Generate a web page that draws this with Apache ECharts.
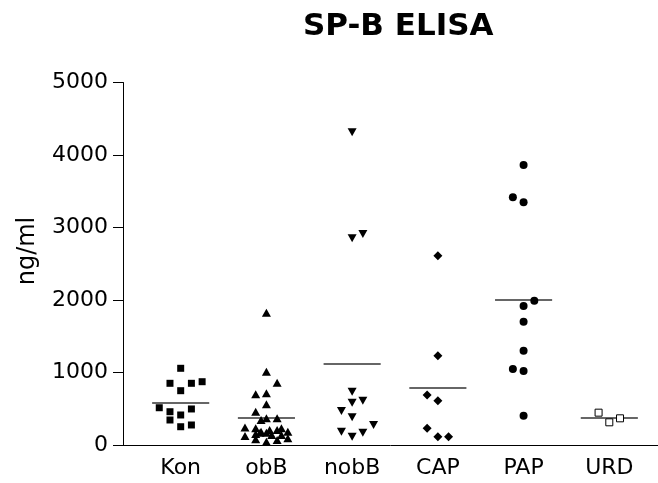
<!DOCTYPE html>
<html>
<head>
<meta charset="utf-8">
<script src="https://cdn.jsdelivr.net/npm/echarts@6/dist/echarts.min.js"></script>
<style>html,body{margin:0;padding:0;background:#fff;}#c{width:658px;height:483px;}</style>
</head>
<body>
<div id="c"></div>
<script>
// ---- data ----
var categories = ['Kon', 'obB', 'nobB', 'CAP', 'PAP', 'URD'];
var yTicks = [0, 1000, 2000, 3000, 4000, 5000];

var konValues  = [1058, 851, 851, 873, 749, 514, 459, 345, 414, 497, 252, 276];
var konCols    = [0, -1, 1, 2, 0, -2, -1, -1, 0, 1, 0, 1];

var obBValues  = [1825, 1011, 859, 713, 699, 561, 459, 368, 368, 345, 240, 230, 230, 207, 207, 183, 183, 170, 170, 152, 138, 138, 124, 92, 79, 69, 46];
var obBCols    = [0, 0, 1, 0, -1, 0, -1, 0, 1, -0.5, -2, -1, 1.4, 0.3, 1, -0.5, 2, 0, -0.6, -1, 0.5, 1.4, -2, 2, -1, 1, 0];

var nobBValues = [4313, 2851, 2910, 735, 583, 611, 469, 382, 276, 183, 114, 170];
var nobBCols   = [0, 0, 1, 0, 0, 1, -1, 0, 2, -1, 0, 1];

var capValues  = [2611, 1232, 690, 611, 230, 114, 114];
var capCols    = [0, 0, -1, 0, -1, 0, 1];

var papValues  = [3862, 3416, 3348, 1990, 1917, 1701, 1301, 1048, 1021, 404];
var papCols    = [0, -1, 0, 1, 0, 0, 0, -1, 0, 0];

var urdValues  = [446, 313, 368];
var urdCols    = [-1, 0, 1];

var groupMeans = [589, 377, 1127, 796, 2000, 377];

// ---- chart ----
var COL = 0.125;      // one jitter column, in category units
var HALF = 0.333;     // half width of mean bar, in category units
var FONT = 'DejaVu Sans';

var groups = [
  {v: konValues,  c: konCols,  symbol: 'rect',     size: 7, rot: 0,   fill: '#000'},
  {v: obBValues,  c: obBCols,  symbol: 'triangle', size: [9, 8], rot: 0, fill: '#000'},
  {v: nobBValues, c: nobBCols, symbol: 'triangle', size: [9, 8], rot: 180, fill: '#000'},
  {v: capValues,  c: capCols,  symbol: 'diamond',  size: 9, rot: 0,   fill: '#000'},
  {v: papValues,  c: papCols,  symbol: 'circle',   size: 8, rot: 0,   fill: '#000'},
  {v: urdValues,  c: urdCols,  symbol: 'rect',     size: 7, rot: 0,   fill: '#fff'}
];

var series = groups.map(function (g, i) {
  return {
    type: 'scatter',
    name: categories[i],
    symbol: g.symbol,
    symbolSize: g.size,
    symbolRotate: g.rot,
    itemStyle: {color: g.fill, borderColor: '#000', borderWidth: g.fill === '#fff' ? 1 : 0, opacity: 1},
    data: g.v.map(function (val, j) { return [i + g.c[j] * COL, val]; }),
    markLine: {
      silent: true,
      symbol: ['none', 'none'],
      label: {show: false},
      lineStyle: {color: '#333', width: 1.5, type: 'solid'},
      z: 1,
      data: [[{coord: [i - HALF, groupMeans[i]]}, {coord: [i + HALF, groupMeans[i]]}]]
    },
    z: 3
  };
});

var chart = echarts.init(document.getElementById('c'), null, {renderer: 'canvas'});
chart.setOption({
  animation: false,
  backgroundColor: '#fff',
  title: {
    text: 'SP-B ELISA',
    left: 298,
    top: 6,
    textStyle: {fontFamily: FONT, fontWeight: 'bold', fontSize: 31, color: '#000'}
  },
  grid: {left: 123, right: 0, top: 82.5, bottom: 38, containLabel: false},
  xAxis: {
    type: 'value',
    min: -0.673,
    max: 5.568,
    splitLine: {show: false},
    axisTick: {show: false},
    axisLine: {show: true, onZero: false, lineStyle: {color: '#000', width: 1}},
    axisLabel: {
      customValues: categories.map(function (_, i) { return i; }),
      formatter: function (v) { return categories[Math.round(v)]; },
      fontFamily: FONT, fontSize: 22, color: '#000', margin: 12
    }
  },
  yAxis: {
    type: 'value',
    min: yTicks[0],
    max: yTicks[yTicks.length - 1],
    interval: 1000,
    splitLine: {show: false},
    axisLine: {show: true, onZero: false, lineStyle: {color: '#000', width: 1}},
    axisTick: {show: true, length: 10, lineStyle: {color: '#000', width: 1}},
    axisLabel: {
      formatter: function (v) { return String(v); },
      fontFamily: FONT, fontSize: 22, color: '#000', margin: 15
    }
  },
  graphic: [{
    type: 'text',
    x: 27.5, y: 251,
    rotation: Math.PI / 2,
    style: {text: 'ng/ml', fontFamily: FONT, fontSize: 24, fill: '#000', align: 'center', verticalAlign: 'middle'}
  }],
  series: series
});
</script>
</body>
</html>
